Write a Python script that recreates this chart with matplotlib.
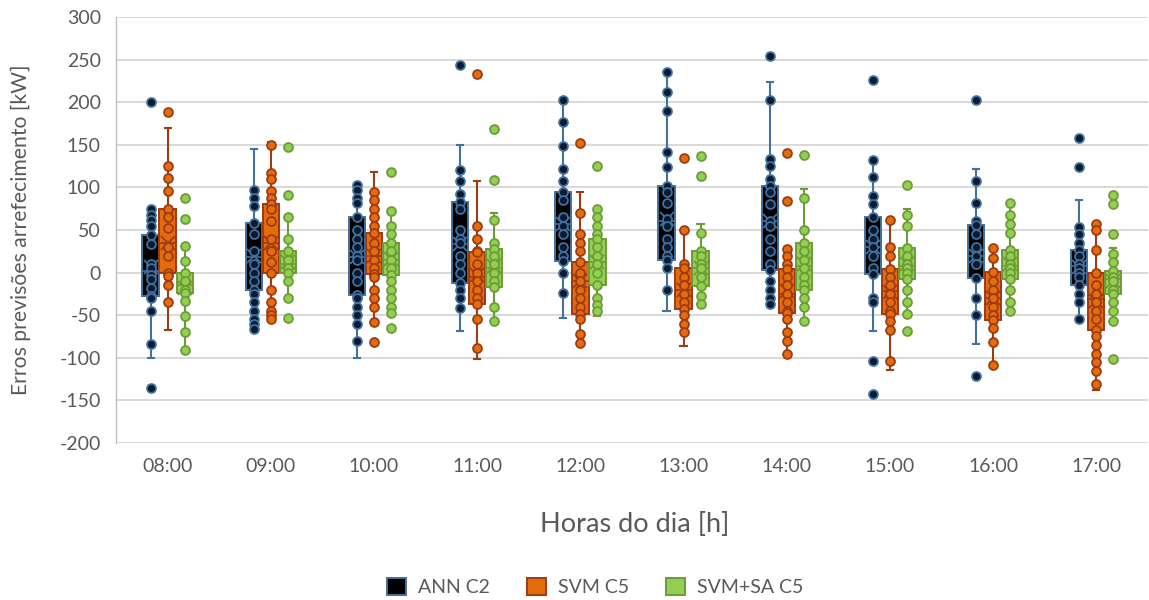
import matplotlib
matplotlib.use("Agg")
import matplotlib.pyplot as plt
from matplotlib.patches import Patch

plt.rcParams['font.family'] = ['Lato', 'DejaVu Sans']
plt.rcParams['axes.unicode_minus'] = False

hours = ["08:00", "09:00", "10:00", "11:00", "12:00", "13:00", "14:00", "15:00", "16:00", "17:00"]
series_names = ["ANN C2", "SVM C5", "SVM+SA C5"]

# ---- ANN C2: box statistics per hour ----
ann_q1 = [-27, -20, -26, -12, 14, 15, 3, -2, -6, -15]
ann_med = [2, 18, 18, 33, 57, 60, 60, 30, 20, 8]
ann_q3 = [44, 58, 65, 83, 95, 102, 102, 65, 56, 27]
ann_lo = [-100, -66, -100, -69, -53, -45, -37, -69, -84, -58]
ann_hi = [75, 145, 103, 150, 203, 235, 224, 132, 122, 85]
ann_mean = [6, 20, 18, 33, 57, 63, 60, 30, 20, 6]
ann_points = [
    [200, 75, 67, 62, 55, 44, 33, 10, 5, -3, -8, -18, -27, -30, -45, -84, -136],
    [97, 88, 78, 58, 45, 25, 10, 0, -10, -20, -25, -35, -45, -55, -60, -66],
    [103, 97, 88, 82, 65, 50, 40, 30, 20, 15, 0, -10, -26, -30, -40, -50, -60, -80],
    [244, 120, 107, 92, 83, 75, 50, 40, 35, 20, 10, 0, -12, -20, -30, -42],
    [203, 177, 149, 122, 108, 95, 85, 65, 55, 45, 30, 20, 14, 0, -24],
    [235, 212, 190, 141, 124, 102, 95, 82, 63, 55, 40, 30, 20, 15, 5, -20],
    [254, 202, 133, 125, 110, 102, 95, 80, 60, 55, 40, 25, 10, 3, -10, -20, -30, -37],
    [226, 132, 112, 90, 80, 65, 50, 40, 30, 20, 5, -2, -30, -35, -104, -143],
    [202, 107, 82, 60, 56, 45, 30, 20, 10, -6, -30, -50, -121],
    [158, 124, 53, 45, 35, 27, 20, 10, 5, 0, -5, -15, -25, -35, -55],
]

# ---- SVM C5 ----
svm_q1 = [0, 0, -2, -37, -49, -43, -48, -49, -56, -67]
svm_med = [35, 35, 20, -5, -10, -20, -25, -22, -30, -31]
svm_q3 = [75, 80, 46, 24, 13, 5, 4, 4, 1, 0]
svm_lo = [-67, -55, -58, -102, -83, -86, -95, -114, -108, -138]
svm_hi = [170, 153, 118, 108, 95, 50, 28, 62, 29, 58]
svm_mean = [35, 35, 20, -3, -10, -20, -22, -23, -30, -33]
svm_points = [
    [188, 125, 111, 96, 75, 65, 52, 30, 20, 0, -4, -15, -35],
    [150, 117, 110, 96, 88, 80, 75, 60, 40, 25, 12, 0, -20, -35, -45, -50, -55],
    [95, 85, 75, 65, 55, 46, 35, 25, 15, 5, -2, -5, -20, -30, -40, -58, -82],
    [233, 55, 40, 25, 24, 10, 0, -10, -20, -30, -37, -55, -88],
    [152, 70, 45, 35, 25, 13, 0, -10, -20, -30, -40, -49, -55, -72, -83],
    [134, 50, 10, 5, -5, -15, -25, -35, -43, -50, -60, -70],
    [140, 84, 28, 20, 10, 4, -5, -15, -25, -35, -45, -48, -55, -70, -80, -95],
    [62, 30, 20, 4, -5, -15, -25, -35, -45, -49, -57, -67, -104],
    [29, 17, 1, -10, -20, -30, -40, -50, -56, -65, -82, -108],
    [57, 50, 27, 0, -15, -25, -35, -45, -55, -67, -75, -85, -95, -105, -115, -131],
]

# ---- SVM+SA C5 ----
sa_q1 = [-24, 0, -3, -17, -14, -16, -20, -8, -8, -25]
sa_med = [-15, 10, 15, 5, 13, 5, 8, 8, 8, -8]
sa_q3 = [0, 25, 35, 28, 40, 25, 35, 29, 26, 2]
sa_lo = [-91, -30, -48, -57, -51, -37, -57, -49, -45, -57]
sa_hi = [31, 65, 72, 70, 75, 57, 98, 75, 82, 29]
sa_mean = [-18, 12, 16, 8, 13, 5, 10, 10, 10, -10]
sa_points = [
    [88, 63, 31, 14, 0, -10, -20, -24, -33, -51, -70, -91],
    [147, 91, 65, 40, 25, 15, 5, 0, -10, -30, -53],
    [118, 72, 55, 45, 35, 25, 15, 5, -3, -10, -20, -30, -40, -48, -65],
    [169, 109, 62, 35, 28, 20, 10, 0, -10, -17, -40, -57],
    [125, 75, 65, 55, 45, 40, 30, 20, 10, 0, -14, -30, -38, -45],
    [137, 113, 47, 25, 20, 10, 5, -5, -16, -27, -37],
    [138, 88, 50, 35, 25, 15, 5, -5, -15, -20, -30, -40, -57],
    [103, 68, 55, 29, 20, 10, 5, 0, -8, -20, -35, -49, -68],
    [82, 67, 57, 47, 26, 20, 10, 5, 0, -8, -20, -35, -45],
    [91, 81, 45, 22, 12, 2, -5, -10, -20, -25, -35, -45, -57, -102],
]

y_ticks = list(range(-200, 301, 50))

# style per series: box fill, outline, marker fill
fills = ["#000000", "#E46C0A", "#92D050"]
edges = ["#41719C", "#9E3A14", "#6E9A3A"]
marker_fills = ["#0B1A33", "#E46C0A", "#92D050"]

stats_by_series = [
    (ann_q1, ann_med, ann_q3, ann_lo, ann_hi, ann_mean, ann_points),
    (svm_q1, svm_med, svm_q3, svm_lo, svm_hi, svm_mean, svm_points),
    (sa_q1, sa_med, sa_q3, sa_lo, sa_hi, sa_mean, sa_points),
]

fig = plt.figure(figsize=(11.49, 6.0), dpi=100)
ax = fig.add_axes([0.101, 0.2617, 0.898, 0.71])

offsets = [-0.165, 0.0, 0.165]
box_w = 0.158

for s, (q1, med, q3, lo, hi, mean, pts) in enumerate(stats_by_series):
    stats = []
    for i in range(len(hours)):
        stats.append(dict(q1=q1[i], med=med[i], q3=q3[i], whislo=lo[i],
                          whishi=hi[i], mean=mean[i], fliers=[]))
    pos = [i + offsets[s] for i in range(len(hours))]
    ax.bxp(stats, positions=pos, widths=box_w, patch_artist=True,
           showmeans=True, showfliers=False, capwidths=0.06,
           boxprops=dict(facecolor=fills[s], edgecolor=edges[s], linewidth=1.4),
           medianprops=dict(color=edges[s], linewidth=1.2),
           whiskerprops=dict(color=edges[s], linewidth=1.5),
           capprops=dict(color=edges[s], linewidth=1.5),
           meanprops=dict(marker="x", markeredgecolor=edges[s], markersize=10,
                          markeredgewidth=1.3),
           zorder=2, manage_ticks=False)
    for i, p in enumerate(pts):
        ax.plot([pos[i]] * len(p), p, linestyle="none", marker="o",
                markersize=6.4, markerfacecolor=marker_fills[s],
                markeredgecolor=edges[s], markeredgewidth=1.3, zorder=3)

ax.set_xlim(-0.5, len(hours) - 0.5)
ax.set_ylim(-200, 300)
ax.set_yticks(y_ticks)
ax.set_xticks(range(len(hours)))
ax.set_xticklabels(hours)
ax.grid(axis="y", color="#D9D9D9", linewidth=1.4, zorder=0)
ax.set_axisbelow(True)
for side in ["top", "right", "bottom"]:
    ax.spines[side].set_visible(False)
ax.spines["left"].set_color("#BFBFBF")
ax.spines["left"].set_linewidth(1.0)
ax.tick_params(axis="both", length=0, labelsize=14, labelcolor="#595959")
ax.tick_params(axis="x", pad=11)
ax.tick_params(axis="y", pad=11)

fig.text(0.018, 0.617, "Erros previsões arrefecimento [kW]", rotation=90,
         ha="center", va="center", fontsize=15.2, color="#595959")
fig.text(0.552, 0.125, "Horas do dia [h]", ha="center", va="center",
         fontsize=19.5, color="#595959")

handles = [Patch(facecolor=fills[k], edgecolor=edges[k], linewidth=1.4)
           for k in range(3)]
fig.legend(handles, series_names, loc="center", bbox_to_anchor=(0.518, 0.022),
           ncol=3, frameon=False, fontsize=14, handlelength=1.0,
           handleheight=1.0, handletextpad=0.6, columnspacing=1.9,
           labelcolor="#595959")

fig.savefig("out.png", dpi=100)
